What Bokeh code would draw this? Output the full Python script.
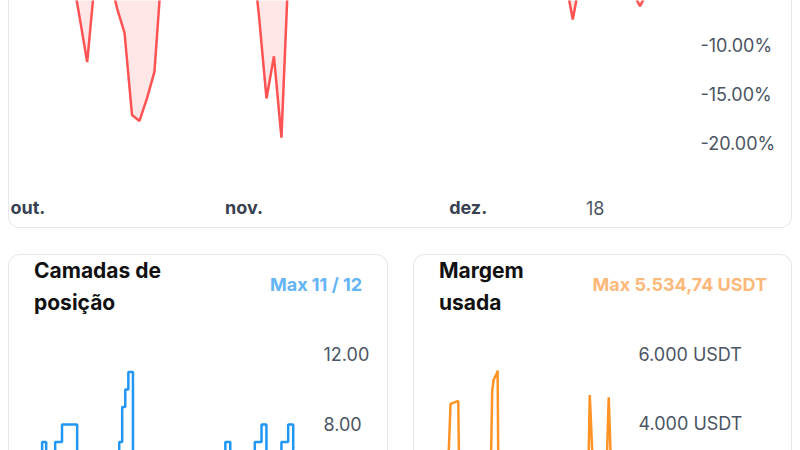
import pandas as pd
from bokeh.plotting import figure
from bokeh.models import Range1d, FixedTicker, Label, Div, Spacer
from bokeh.layouts import column, row
from bokeh.embed import file_html
from bokeh.resources import INLINE

# ---------------- data ----------------
# Drawdown (%)
dd_dates = ["2024-10-01", "2024-10-04", "2024-10-07", "2024-10-09", "2024-10-10",
            "2024-10-11", "2024-10-12", "2024-10-13", "2024-10-14", "2024-10-15",
            "2024-10-16", "2024-10-17", "2024-10-18", "2024-10-19", "2024-10-20",
            "2024-10-21", "2024-10-22", "2024-10-26", "2024-10-30", "2024-11-02",
            "2024-11-03", "2024-11-04", "2024-11-05", "2024-11-06", "2024-11-07",
            "2024-11-08", "2024-11-15", "2024-12-03", "2024-12-04", "2024-12-05",
            "2024-12-10", "2024-12-13", "2024-12-14", "2024-12-15", "2024-12-16",
            "2024-12-17", "2024-12-21", "2024-12-23", "2024-12-24", "2024-12-25",
            "2024-12-26", "2024-12-30"]
dd_values = [0.0, -0.6, -1.4, -2.8, -7.2,
             -11.7, -3.5, -2.2, -3.0, -6.2,
             -8.7, -17.1, -17.7, -15.4, -12.7,
             -2.0, -0.8, 0.0, -0.4, 0.0,
             -7.0, -15.4, -11.1, -19.4, -1.2,
             -0.5, 0.0, -1.0, -3.9, -0.8,
             0.0, -1.5, -3.2, -7.35, -3.3,
             -1.2, -1.6, -4.5, -6.0, -4.5,
             -1.0, 0.0]

# Position layers (step, value holds until next date)
layer_dates = ["2024-10-01 00:00", "2024-10-10 07:00", "2024-10-11 12:00", "2024-10-14 04:00",
               "2024-10-16 05:00", "2024-10-20 17:00", "2024-11-02 05:00", "2024-11-03 02:00",
               "2024-11-04 00:00", "2024-11-04 22:00", "2024-11-06 07:00", "2024-12-03 18:00",
               "2024-12-05 05:00", "2024-12-12 12:00", "2024-12-14 12:00", "2024-12-15 23:00",
               "2024-12-20 10:00", "2024-12-22 10:00", "2024-12-23 22:00", "2024-12-31 00:00"]
layer_values = [0, 7, 0, 7,
                8, 0, 7, 9,
                10, 11, 0, 7,
                0, 7, 8, 0,
                7, 8, 0, 0]

# Margin used (USDT)
margin_dates = ["2024-10-01 00:00", "2024-10-14 16:00", "2024-10-17 05:00", "2024-10-20 11:00",
                "2024-10-21 07:00", "2024-11-02 12:00", "2024-11-03 19:00", "2024-11-04 08:00",
                "2024-11-05 22:00", "2024-11-06 02:00", "2024-11-06 16:00", "2024-12-13 17:00",
                "2024-12-15 00:00", "2024-12-18 02:00", "2024-12-20 22:00", "2024-12-23 00:00",
                "2024-12-25 07:00", "2024-12-31 00:00"]
margin_values = [0, 0, 4571, 4657,
                 0, 0, 4923, 5257,
                 5477, 5534.74, 0, 0,
                 4829, 0, 0, 4763,
                 0, 0]

dd_ticks = [-10, -15, -20]
dd_tick_labels = ["-10.00%", "-15.00%", "-20.00%"]
time_ticks = ["2024-10-01", "2024-11-01", "2024-12-01", "2024-12-18"]
time_tick_labels = ["out.", "nov.", "dez.", "18"]
time_tick_is_month = [True, True, True, False]
layer_ticks = [8, 12]
layer_tick_labels = ["8.00", "12.00"]
margin_ticks = [4000, 6000]
margin_tick_labels = ["4.000 USDT", "6.000 USDT"]

layer_title = ["Camadas de", "posição"]
layer_max = "Max 11 / 12"
margin_title = ["Margem", "usada"]
margin_max = "Max 5.534,74 USDT"

# ---------------- helpers ----------------
FONT = "Inter"
AX_SIZE = "18px"
AX_COLOR = "#4b5563"
RED = "#ff5252"
BLUE = "#2196f3"
ORANGE = "#ff9326"
BORDER = "1px solid #e5e7eb"


def ms(s):
    return pd.Timestamp(s).value / 1e6


def style_fig(p, ticks, labels, standoff=5):
    p.outline_line_color = None
    p.grid.visible = False
    p.background_fill_color = "white"
    p.border_fill_color = "white"
    p.xaxis.visible = False
    ya = p.yaxis[0]
    ya.ticker = FixedTicker(ticks=ticks)
    ya.major_label_overrides = {t: l for t, l in zip(ticks, labels)}
    ya.axis_line_color = None
    ya.major_tick_line_color = None
    ya.minor_tick_line_color = None
    ya.major_tick_out = 0
    ya.major_tick_in = 0
    ya.major_label_standoff = standoff
    ya.major_label_text_font = FONT
    ya.major_label_text_font_size = AX_SIZE
    ya.major_label_text_color = AX_COLOR


# ---------------- top: drawdown ----------------
top = figure(width=784, height=228, x_axis_type="datetime", y_axis_location="right",
             x_range=Range1d(ms("2024-09-30 14:22"), ms("2024-12-31 10:22")),
             y_range=Range1d(-28.673, -5.408),
             output_backend="svg", toolbar_location=None,
             min_border_left=0, min_border_right=98, min_border_top=0, min_border_bottom=0)
style_fig(top, dd_ticks, dd_tick_labels)
top.styles = {"border-left": BORDER, "border-right": BORDER, "border-bottom": BORDER,
              "border-radius": "0 0 12px 12px", "overflow": "hidden"}

dd_x = pd.to_datetime(dd_dates)
top.varea(x=dd_x, y1=0, y2=dd_values, fill_color=RED, fill_alpha=0.14)
top.line(x=dd_x, y=dd_values, line_color=RED, line_width=2.5)

for i, (t, lab, is_month) in enumerate(zip(time_ticks, time_tick_labels, time_tick_is_month)):
    top.add_layout(Label(x=ms(t), y=21, x_units="data", y_units="screen", text=lab,
                         x_offset=-2 if i == 0 else 0,
                         text_align="left" if i == 0 else "center",
                         text_baseline="middle", text_font=FONT, text_font_size=AX_SIZE,
                         text_font_style="bold" if is_month else "normal",
                         text_color="#374151" if is_month else AX_COLOR))


# ---------------- bottom cards ----------------
def header(width, title, maxtxt, maxcol, right_pad):
    html = (
        f'<div style="position:relative;width:{width - 2}px;height:75px;font-family:Inter,sans-serif;">'
        f'<div style="position:absolute;left:25px;top:0px;font-weight:700;font-size:21px;'
        f'line-height:32px;color:#111111;">{title[0]}<br>{title[1]}</div>'
        f'<div style="position:absolute;right:{right_pad}px;top:19px;font-weight:700;font-size:18px;'
        f'line-height:22px;color:{maxcol};white-space:nowrap;">{maxtxt}</div>'
        f'</div>'
    )
    return Div(text=html, width=width, height=76, margin=0,
               styles={"border-left": BORDER, "border-right": BORDER, "border-top": BORDER,
                       "border-radius": "12px 12px 0 0", "background": "white",
                       "overflow": "hidden"})


def chart(width, x_start, x_end, y_start, y_end, mbr, ticks, labels, standoff):
    p = figure(width=width, height=120, x_axis_type="datetime", y_axis_location="right",
               x_range=Range1d(x_start, x_end), y_range=Range1d(y_start, y_end),
               output_backend="svg", toolbar_location=None,
               min_border_left=0, min_border_right=mbr, min_border_top=0, min_border_bottom=0)
    style_fig(p, ticks, labels, standoff)
    p.styles = {"border-left": BORDER, "border-right": BORDER, "overflow": "hidden"}
    return p


left = chart(380, ms("2024-09-30 14:22"), ms("2024-12-31 10:22"), 6.514, 13.371, 71,
             layer_ticks, layer_tick_labels, 5)
left.step(x=pd.to_datetime(layer_dates), y=layer_values, mode="after",
          line_color=BLUE, line_width=2.5)
left_card = column(header(380, layer_title, layer_max, "#64b5f6", 25), left, spacing=0)

right = chart(379, ms("2024-10-01 23:38"), ms("2024-12-31 08:24"), 3228.6, 6685.7, 165,
              margin_ticks, margin_tick_labels, 10)
right.line(x=pd.to_datetime(margin_dates), y=margin_values, line_color=ORANGE, line_width=2.5)
right_card = column(header(379, margin_title, margin_max, "#fdb87a", 24), right, spacing=0)

layout = row(Spacer(width=8, height=450),
             column(top, row(left_card, right_card, spacing=25), spacing=26),
             spacing=0)
open("out.html", "w").write(file_html(layout, INLINE))
